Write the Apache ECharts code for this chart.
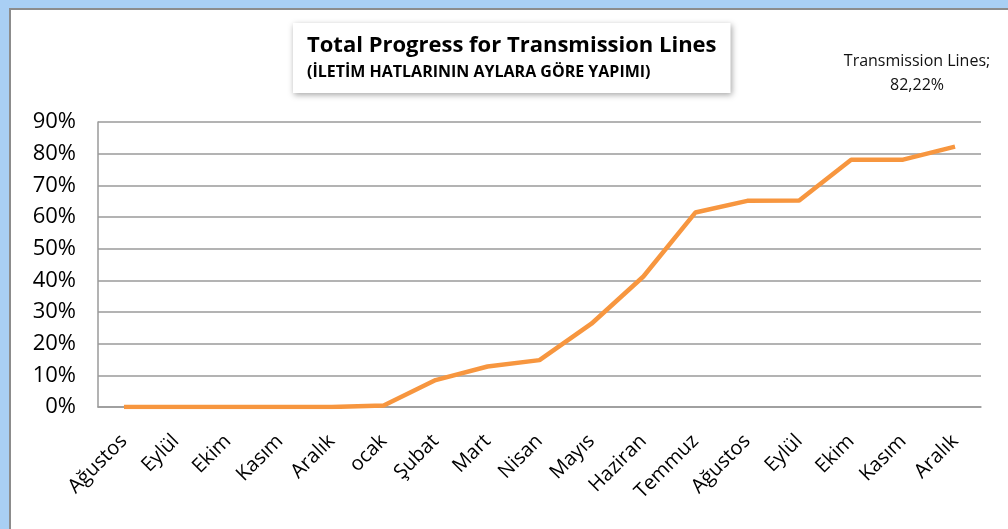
<!DOCTYPE html>
<html>
<head>
<meta charset="utf-8">
<script src="https://cdn.jsdelivr.net/npm/echarts@6/dist/echarts.min.js"></script>
<style>
html,body{margin:0;padding:0;}
#chart{width:1008px;height:529px;}
</style>
</head>
<body>
<div id="chart"></div>
<script>
var chart = echarts.init(document.getElementById('chart'));
var months = ['Ağustos','Eylül','Ekim','Kasım','Aralık','ocak','Şubat','Mart','Nisan','Mayıs','Haziran','Temmuz','Ağustos','Eylül','Ekim','Kasım','Aralık'];
var progress = [0,0,0,0,0,0.5,8.5,12.8,14.8,26.3,41.2,61.4,65.1,65.2,78.1,78.1,82.22];//%
var yTicks = {min:0, max:90, step:10};
var FONT = 'Open Sans';

var option = {
	backgroundColor:'#a9cff4',
	textStyle:{fontFamily:FONT},
	graphic:[{
		type:'rect', z:-1, silent:true,
		shape:{x:10,y:9,width:1010,height:540},
		style:{fill:'#ffffff',stroke:'#8c8c8c',lineWidth:2}
	}],
	title:{
		text:'Total Progress for Transmission Lines',
		subtext:'(İLETİM HATLARININ AYLARA GÖRE YAPIMI)',
		left:293, top:23,
		padding:[12,14,13,14],
		itemGap:7,
		backgroundColor:'#ffffff',
		shadowBlur:6, shadowColor:'rgba(0,0,0,0.35)', shadowOffsetX:1, shadowOffsetY:2,
		textStyle:{fontFamily:FONT,fontSize:22,fontWeight:'bold',color:'#000'},
		subtextStyle:{fontFamily:FONT,fontSize:16,fontWeight:'bold',color:'#000'}
	},
	grid:{left:98,right:27,top:122,bottom:122},
	xAxis:{
		type:'category',
		data:months,
		boundaryGap:true,
		axisLine:{lineStyle:{color:'#9a9a9a',width:1.5}},
		axisTick:{show:false},
		axisLabel:{rotate:45,margin:31,fontSize:20,color:'#000',fontFamily:FONT,interval:0}
	},
	yAxis:{
		type:'value',
		min:yTicks.min, max:yTicks.max, interval:yTicks.step,
		axisLine:{show:true,lineStyle:{color:'#9a9a9a',width:1.5}},
		axisTick:{show:false},
		splitLine:{lineStyle:{color:'#9a9a9a',width:1.5}},
		axisLabel:{formatter:'{value}%',fontSize:22,color:'#000',margin:22,fontFamily:FONT}
	},
	series:[{
		name:'Transmission Lines',
		type:'line',
		data:progress,
		showSymbol:false,
		symbol:'none',
		lineStyle:{color:'#f7963f',width:4.5},
		endLabel:{
			show:true,
			align:'center',
			verticalAlign:'bottom',
			distance:0,
			offset:[-38,-49],
			fontSize:16,
			lineHeight:24,
			color:'#111',
			fontFamily:FONT,
			formatter:function(p){
				return p.seriesName+';\n'+p.value.toFixed(2).replace('.',',')+'%';
			}
		}
	}]
};
chart.setOption(option);
</script>
</body>
</html>
